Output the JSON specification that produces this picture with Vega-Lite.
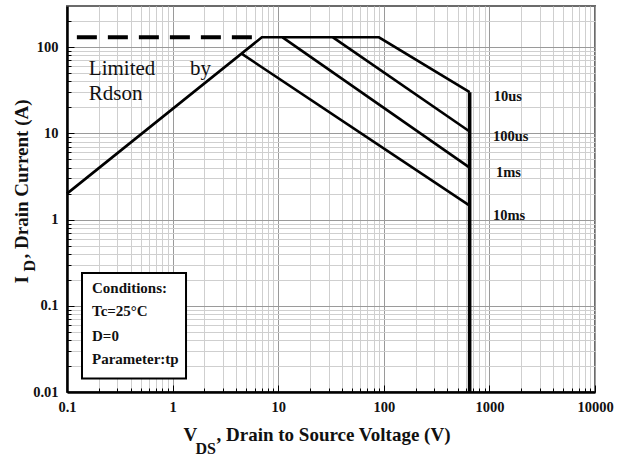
{
  "$schema": "https://vega.github.io/schema/vega-lite/v6.json",
  "width": 528,
  "height": 386,
  "autosize": "none",
  "padding": {"left": 67, "top": 6, "right": 33, "bottom": 64},
  "background": "white",
  "config": {
    "view": {"stroke": "#6b6b6b", "strokeWidth": 2},
    "axis": {
      "labelFont": "Liberation Serif",
      "labelFontWeight": "bold",
      "labelFontSize": 14.5,
      "labelColor": "#111",
      "titleFont": "Liberation Serif",
      "titleFontWeight": "bold",
      "titleFontSize": 19,
      "titleColor": "#111"
    }
  },
  "datasets": {
    "curves": [
      {"s": "Rdson+10us", "i": 0, "x": 0.1, "y": 2.0},
      {"s": "Rdson+10us", "i": 1, "x": 7, "y": 130},
      {"s": "Rdson+10us", "i": 2, "x": 90, "y": 130},
      {"s": "Rdson+10us", "i": 3, "x": 650, "y": 30},
      {"s": "100us", "i": 0, "x": 33, "y": 130},
      {"s": "100us", "i": 1, "x": 650, "y": 10.5},
      {"s": "1ms", "i": 0, "x": 11, "y": 130},
      {"s": "1ms", "i": 1, "x": 650, "y": 4},
      {"s": "10ms", "i": 0, "x": 4.5, "y": 84},
      {"s": "10ms", "i": 1, "x": 650, "y": 1.45}
    ],
    "vlimit": [
      {"s": "BVdss", "i": 0, "x": 650, "y": 30},
      {"s": "BVdss", "i": 1, "x": 650, "y": 0.01}
    ],
    "idlimit": [
      {"s": "Idm", "i": 0, "x": 0.124, "y": 130},
      {"s": "Idm", "i": 1, "x": 7, "y": 130}
    ],
    "box": [
      {"x": 0.1387, "x2": 1.34, "y": 0.2407, "y2": 0.0143}
    ],
    "conditions": [
      {"x": 0.1725, "y": 0.1615, "t": "Conditions:"},
      {"x": 0.1725, "y": 0.0875, "t": "Tc=25°C"},
      {"x": 0.1725, "y": 0.045, "t": "D=0"},
      {"x": 0.1725, "y": 0.0244, "t": "Parameter:tp"}
    ],
    "rdson": [
      {"x": 0.161, "y": 47.3, "t": "Limited"},
      {"x": 1.46, "y": 47.3, "t": "by"},
      {"x": 0.161, "y": 24.3, "t": "Rdson"}
    ],
    "pulses": [
      {"x": 1100, "y": 26.2, "t": "10us"},
      {"x": 1082, "y": 9.0, "t": "100us"},
      {"x": 1155, "y": 3.51, "t": "1ms"},
      {"x": 1082, "y": 1.11, "t": "10ms"}
    ]
  },
  "resolve": {"axis": {"x": "independent", "y": "independent"}},
  "layer": [
    {
      "data": {"name": "curves"},
      "mark": {"type": "line", "color": "#000", "strokeWidth": 2.6, "strokeJoin": "miter"},
      "encoding": {
        "x": {
          "field": "x", "type": "quantitative",
          "scale": {"type": "log", "domain": [0.1, 10000], "nice": false},
          "axis": {
            "orient": "bottom",
            "values": [0.1,0.2,0.3,0.4,0.5,0.6,0.7,0.8,0.9,1,2,3,4,5,6,7,8,9,10,20,30,40,50,60,70,80,90,100,200,300,400,500,600,700,800,900,1000,2000,3000,4000,5000,6000,7000,8000,9000,10000],
            "format": "~g",
            "labelExpr": "indexof([0.1,1,10,100,1000,10000], datum.value) >= 0 ? datum.label : ''",
            "labelOverlap": false,
            "labelFlush": false,
            "labelPadding": 15,
            "domainColor": "#000",
            "domainWidth": 2.5,
            "tickColor": "#000",
            "tickWidth": 1,
            "tickSize": {"condition": {"test": "indexof([0.1,1,10,100,1000,10000], datum.value) >= 0", "value": -7}, "value": -4},
            "grid": true,
            "gridColor": {"condition": {"test": "indexof([0.1,1,10,100,1000,10000], datum.value) >= 0", "value": "#9a9a9a"}, "value": "#cfcfcf"},
            "gridWidth": 1,
            "title": ", Drain to Source Voltage (V)",
            "titleAlign": "left",
            "titleBaseline": "alphabetic",
            "titleX": 149,
            "titleY": 48
          }
        },
        "y": {
          "field": "y", "type": "quantitative",
          "scale": {"type": "log", "domain": [0.01, 300], "nice": false},
          "axis": {
            "orient": "left",
            "values": [0.01,0.02,0.03,0.04,0.05,0.06,0.07,0.08,0.09,0.1,0.2,0.3,0.4,0.5,0.6,0.7,0.8,0.9,1,2,3,4,5,6,7,8,9,10,20,30,40,50,60,70,80,90,100,200],
            "format": "~g",
            "labelExpr": "indexof([0.01,0.1,1,10,100], datum.value) >= 0 ? datum.label : ''",
            "labelOverlap": false,
            "labelFlush": false,
            "labelPadding": 16,
            "domainColor": "#000",
            "domainWidth": 2.5,
            "tickColor": "#000",
            "tickWidth": 1,
            "tickSize": {"condition": {"test": "indexof([0.01,0.1,1,10,100], datum.value) >= 0", "value": -7}, "value": -4},
            "grid": true,
            "gridColor": {"condition": {"test": "indexof([0.01,0.1,1,10,100], datum.value) >= 0", "value": "#9a9a9a"}, "value": "#cfcfcf"},
            "gridWidth": 1,
            "title": ", Drain Current (A)",
            "titleAngle": 270,
            "titleAlign": "left",
            "titleBaseline": "alphabetic",
            "titleX": -40,
            "titleY": 252
          }
        },
        "detail": {"field": "s"},
        "order": {"field": "i"}
      }
    },
    {
      "data": {"name": "vlimit"},
      "mark": {"type": "line", "color": "#000", "strokeWidth": 3.6},
      "encoding": {
        "x": {"field": "x", "type": "quantitative", "axis": null},
        "y": {"field": "y", "type": "quantitative", "axis": null},
        "order": {"field": "i"}
      }
    },
    {
      "data": {"name": "idlimit"},
      "mark": {"type": "line", "color": "#000", "strokeWidth": 4, "strokeDash": [20, 11]},
      "encoding": {
        "x": {"field": "x", "type": "quantitative", "axis": null},
        "y": {"field": "y", "type": "quantitative", "axis": null},
        "order": {"field": "i"}
      }
    },
    {
      "data": {"name": "box"},
      "mark": {"type": "rect", "fill": "white", "stroke": "#000", "strokeWidth": 2},
      "encoding": {
        "x": {"field": "x", "type": "quantitative", "axis": {
          "orient": "bottom",
          "domain": false, "ticks": false, "labels": false, "grid": false,
          "title": "V", "titleAlign": "left", "titleBaseline": "alphabetic", "titleX": 116, "titleY": 48}},
        "x2": {"field": "x2"},
        "y": {"field": "y", "type": "quantitative", "axis": {
          "orient": "left",
          "domain": false, "ticks": false, "labels": false, "grid": false,
          "title": "I", "titleAngle": 270, "titleAlign": "left", "titleBaseline": "alphabetic", "titleX": -40, "titleY": 277}},
        "y2": {"field": "y2"}
      }
    },
    {
      "data": {"name": "conditions"},
      "mark": {"type": "text", "font": "Liberation Serif", "fontWeight": "bold", "fontSize": 15, "align": "left", "baseline": "middle", "color": "#111"},
      "encoding": {
        "x": {"field": "x", "type": "quantitative", "axis": {
          "orient": "bottom",
          "domain": false, "ticks": false, "labels": false, "grid": false,
          "title": "DS", "titleFontSize": 16, "titleAlign": "left", "titleBaseline": "alphabetic", "titleX": 128, "titleY": 61}},
        "y": {"field": "y", "type": "quantitative", "axis": {
          "orient": "left",
          "domain": false, "ticks": false, "labels": false, "grid": false,
          "title": "D", "titleFontSize": 16, "titleAngle": 270, "titleAlign": "left", "titleBaseline": "alphabetic", "titleX": -33, "titleY": 265}},
        "text": {"field": "t"}
      }
    },
    {
      "data": {"name": "rdson"},
      "mark": {"type": "text", "font": "Liberation Serif", "fontSize": 21, "align": "left", "baseline": "alphabetic", "color": "#111"},
      "encoding": {
        "x": {"field": "x", "type": "quantitative", "axis": null},
        "y": {"field": "y", "type": "quantitative", "axis": null},
        "text": {"field": "t"}
      }
    },
    {
      "data": {"name": "pulses"},
      "mark": {"type": "text", "font": "Liberation Serif", "fontWeight": "bold", "fontSize": 14.5, "align": "left", "baseline": "middle", "color": "#111"},
      "encoding": {
        "x": {"field": "x", "type": "quantitative", "axis": null},
        "y": {"field": "y", "type": "quantitative", "axis": null},
        "text": {"field": "t"}
      }
    }
  ]
}
